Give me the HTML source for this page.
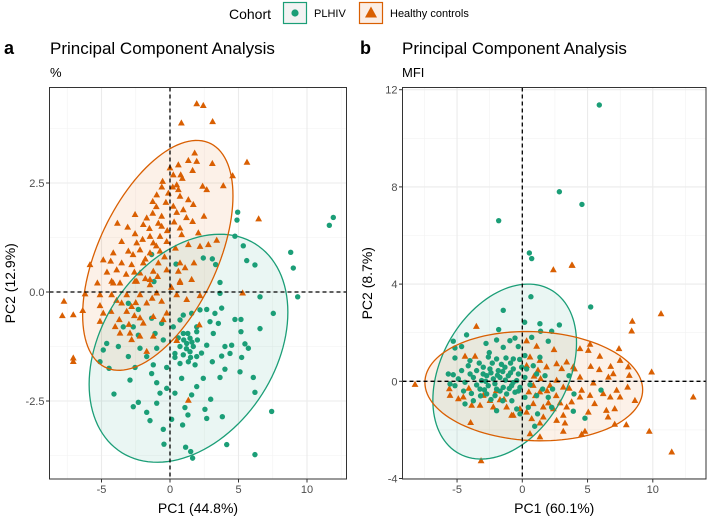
<!DOCTYPE html>
<html><head><meta charset="utf-8">
<style>
html,body{margin:0;padding:0;background:#fff;}
svg{display:block;font-family:"Liberation Sans",Arial,sans-serif;}
</style></head>
<body>
<svg id="chart" width="708" height="518" viewBox="0 0 708 518" xmlns="http://www.w3.org/2000/svg">
  <g>
    <text x="229" y="19" font-size="14" fill="#000">Cohort</text>
    <rect x="283.5" y="2.5" width="23" height="21" fill="#f3f3f3" stroke="#1B9E77" stroke-width="1.2"/>
    <circle cx="295" cy="13" r="3.6" fill="#1B9E77"/>
    <text x="314" y="17" font-size="11" fill="#000">PLHIV</text>
    <rect x="359.5" y="2.5" width="23" height="21" fill="#fbeee6" stroke="#D95F02" stroke-width="1.2"/>
    <polygon points="371,6.5 377,17.5 365,17.5" fill="#D95F02"/>
    <text x="390" y="17" font-size="11" fill="#000">Healthy controls</text>
  </g>
  <text x="4" y="54" font-size="18" font-weight="bold">a</text>
  <text x="50" y="54" font-size="17">Principal Component Analysis</text>
  <text x="50" y="77" font-size="13">%</text>
  <text x="360" y="54" font-size="18" font-weight="bold">b</text>
  <text x="402" y="54" font-size="17">Principal Component Analysis</text>
  <text x="402" y="77" font-size="13">MFI</text>
  <g id="panelA"></g>
  <g id="panelB"></g>
</svg>
<script>
// ---------- Panel a data (% ) ----------
const aXTicks = [-5, 0, 5, 10];
const aXMinor = [-7.5, -2.5, 2.5, 7.5, 12.5];
const aYTicks = [-2.5, 0, 2.5];
const aYTickLabels = ["-2.5", "0.0", "2.5"];
const aYMinor = [-3.75, -1.25, 1.25, 3.75];
const aHealthy = [[1.95,4.31],[2.43,4.27],[0.83,3.87],[3.11,3.9],[1.8,3.18],[1.34,3.01],[1.95,2.99],[3.09,2.94],[5.62,2.97],[0,2.84],[0.61,2.91],[1.65,2.78],[0.24,2.68],[0.78,2.68],[4.57,2.66],[-0.54,2.53],[0.49,2.45],[2.38,2.42],[3.89,2.43],[2.68,2.34],[-0.97,2.22],[0.61,2.34],[-0.12,2.26],[-1.26,2.07],[0.73,2.19],[1.34,2.11],[1.7,2.0],[0.24,1.96],[0.97,1.88],[-2.55,1.77],[-1.26,1.8],[-0.61,1.73],[0.49,1.82],[2.48,1.73],[6.47,1.67],[-3.84,1.57],[-1.7,1.69],[-1.95,1.54],[-0.85,1.57],[-3.09,1.48],[-0.61,1.5],[0.73,1.46],[1.65,1.61],[-2.55,1.33],[-1.46,1.27],[-0.73,1.27],[0.85,1.31],[2.07,1.35],[-3.53,1.15],[-2.43,1.12],[-1.22,1.12],[-0.24,1.15],[1.34,1.08],[2.19,1.04],[3.41,1.18],[2.8,1.08],[-4.14,0.89],[-3.04,0.93],[-2.19,0.96],[-1.46,0.89],[-0.73,0.93],[-5.84,0.62],[-4.87,0.73],[-4.33,0.7],[-3.53,0.66],[-2.8,0.62],[-1.95,0.66],[-0.85,0.66],[0.73,0.66],[1.75,0.66],[-3.89,0.5],[-2.19,0.43],[-1.22,0.47],[-0.24,0.5],[0.61,0.47],[-4.26,0.24],[-3.65,0.2],[-2.55,0.24],[-1.46,0.28],[0.73,0.24],[1.58,0.28],[-4.14,0.2],[-2.43,0.24],[-1.46,0.16],[0.73,0.21],[-6.2,-0.05],[-5.11,-0.07],[-4.26,-0.07],[-3.16,-0.07],[-2.19,-0.07],[-0.97,-0.03],[0.49,-0.07],[2.19,-0.09],[5.3,-0.03],[-7.74,-0.22],[-7.86,-0.55],[-7.06,-0.53],[-6.37,-0.43],[-5.11,-0.32],[-3.53,-0.26],[-2.8,-0.34],[-1.7,-0.26],[-0.61,-0.22],[1.22,-0.18],[-4.87,-0.49],[-3.16,-0.45],[-2.19,-0.6],[-1.22,-0.57],[-0.24,-0.49],[-5.11,-0.68],[-3.7,-0.64],[-1.95,-0.72],[-0.49,-0.64],[2.14,-0.76],[-3.65,-0.95],[-2.92,-0.95],[-2.19,-1.02],[-1.22,-1.02],[0.49,-1.12],[-2.8,-1.1],[-1.7,-1.37],[-7.06,-1.52],[-7.06,-1.6],[1.34,-2.49],[-1.0,1.95],[-0.3,2.05],[0.2,2.4],[-1.5,1.45],[-0.2,1.4],[0.3,1.6],[-2.0,1.2],[-1.0,1.05],[0.4,1.0],[-2.7,0.85],[-1.8,0.75],[-0.4,0.8],[-3.2,0.4],[-2.6,0.45],[-1.8,0.3],[-0.9,0.35],[-4.6,0.45],[-5.3,0.2],[-3.9,-0.2],[-2.5,-0.25],[-1.3,-0.15],[-4.3,-0.45],[-2.6,-0.55],[-3.0,-0.75],[-4.0,-0.8],[0.1,0.1],[1.1,0.55],[1.2,1.7],[-0.6,2.4],[0.9,2.6]];
const aPlhiv = [[11.92,1.71],[11.63,1.53],[4.94,1.83],[4.89,1.65],[4.74,1.28],[5.35,1.06],[8.81,0.91],[9.0,0.55],[5.6,0.72],[6.2,0.62],[2.43,0.78],[3.09,0.76],[3.33,0.63],[0.44,0.64],[-1.34,0.86],[3.65,0.22],[-1.17,0.24],[6.57,-0.11],[9.32,-0.11],[3.65,-0.03],[7.54,-0.49],[6.57,-0.84],[4.74,-0.63],[5.18,-0.63],[3.77,-0.37],[2.19,-0.41],[2.68,-0.4],[3.28,-0.49],[2.92,-0.68],[3.53,-0.72],[1.95,-0.8],[3.16,-0.95],[5.18,-0.91],[4.5,-1.22],[5.47,-1.19],[5.72,-1.29],[4.01,-1.25],[2.68,-1.22],[1.22,-1.18],[1.7,-1.25],[1.46,-1.37],[0.97,-1.44],[0.36,-1.41],[1.95,-1.48],[1.34,-1.6],[0.73,-1.64],[1.83,-1.67],[3.77,-1.47],[4.38,-1.41],[5.23,-1.5],[3.09,-1.6],[4.01,-1.77],[5.11,-1.83],[3.65,-1.96],[6.08,-1.96],[2.43,-1.98],[1.95,-2.17],[0.85,-1.98],[-0.24,-1.73],[-1.22,-1.67],[-1.34,-1.87],[-2.92,-2.02],[-0.97,-2.08],[-0.24,-2.21],[0.36,-2.32],[-0.73,-2.32],[1.58,-2.36],[2.97,-2.46],[6.2,-2.3],[-4.09,-2.34],[-2.31,-2.53],[-2.68,-2.63],[-0.97,-2.55],[1.09,-2.65],[2.55,-2.69],[3.82,-2.86],[7.42,-2.74],[-1.7,-2.76],[-1.46,-2.95],[0.12,-2.92],[0.92,-3.05],[1.31,-2.82],[2.68,-2.9],[-0.49,-3.15],[-0.44,-3.49],[1.14,-3.56],[1.51,-3.66],[1.65,-3.81],[4.14,-3.5],[6.2,-3.73],[-3.04,-0.26],[-2.31,-0.4],[-1.34,-0.6],[-0.61,-0.72],[0.24,-0.8],[0.73,-0.64],[0.97,-0.53],[1.58,-0.49],[-3.41,-0.8],[-2.68,-0.8],[-2.31,-0.99],[-1.09,-0.95],[-0.49,-1.1],[-4.62,-1.18],[-3.77,-1.25],[-2.19,-1.29],[-0.97,-1.29],[-4.87,-1.33],[-3.04,-1.48],[-1.7,-1.48],[-5.11,-1.6],[-4.45,-1.75],[-2.55,-1.73],[0.36,-1.5],[0.73,-1.25],[1.46,-1.06],[1.95,-0.91],[0.97,-0.95],[1.2,-1.3],[1.6,-1.15],[1.0,-1.1],[1.5,-1.5],[2.3,-1.4],[2.0,-1.1],[0.6,-1.05],[1.3,-0.95]];
// ellipse: [centerX, centerY, varX, covXY, varY] (data units)
const aEllHealthy = [-0.89, 0.84, 30.1, 7.5, 6.95];
const aEllPlhiv = [1.35, -1.29, 52.6, 6.0, 6.84];

// ---------- Panel b data (MFI) ----------
const bXTicks = [-5, 0, 5, 10];
const bXMinor = [-7.5, -2.5, 2.5, 7.5, 12.5];
const bYTicks = [-4, 0, 4, 8, 12];
const bYTickLabels = ["-4", "0", "4", "8", "12"];
const bYMinor = [-2, 2, 6, 10];
const bPlhiv = [[5.9,11.37],[2.84,7.8],[4.57,7.28],[-1.81,6.61],[0.54,5.28],[0.72,5.05],[0.66,3.48],[5.24,3.06],[-1.46,2.92],[0.18,2.43],[1.35,2.37],[2.84,2.32],[-1.81,2.13],[-4.27,1.91],[1.4,2.06],[2.25,2.06],[-5.29,1.65],[-2.78,1.56],[-1.97,1.7],[-0.95,1.67],[-0.56,1.78],[0.72,1.81],[1.99,1.65],[-5.16,1.37],[-4.65,1.43],[-1.46,1.4],[-0.31,1.43],[-2.53,1.18],[-5.16,0.96],[-4.01,0.85],[-1.97,0.92],[-1.25,0.96],[-0.69,0.92],[0.2,1.06],[1.35,0.99],[-5.67,0.3],[-5.29,0.27],[-4.65,0.44],[-4.14,0.64],[-3.5,0.44],[-2.99,0.58],[-2.48,0.51],[-1.84,0.44],[-1.33,0.58],[-0.69,0.51],[-0.05,0.58],[0.33,0.51],[0.84,0.64],[-4.9,0.1],[-4.39,-0.04],[-3.75,0.16],[-3.12,0.03],[-2.73,0.23],[-2.22,0.1],[-1.71,0.16],[-1.07,0.23],[-0.43,0.03],[0.2,0.16],[1.1,0.3],[1.74,0.23],[3.58,0.23],[-5.54,-0.11],[-5.16,-0.18],[-3.24,-0.32],[-2.61,-0.18],[-1.97,-0.32],[-1.46,-0.25],[-0.82,-0.18],[-0.18,-0.25],[0.59,-0.14],[1.56,-0.32],[2.32,-0.32],[-2.73,-0.52],[-2.09,-0.59],[-1.2,-0.52],[-0.56,-0.45],[0.2,-0.66],[-3.75,-0.8],[-4.39,-0.93],[1.1,-0.59],[1.99,-0.66],[3.96,-0.52],[6.03,-0.36],[-1.97,-1.21],[-0.43,-1.14],[0.46,-1.07],[1.17,-1.34],[2.25,-1.07],[3.91,-1.23],[4.8,-1.52],[0.95,-1.85],[-0.18,-1.34],[-3.0,0.3],[-2.4,0.35],[-1.9,0.25],[-1.5,0.4],[-0.9,0.35],[-0.3,0.3],[-2.8,0.0],[-2.1,-0.1],[-1.3,0.05],[-0.7,-0.05],[-3.5,-0.15],[-2.9,-0.35],[-1.7,-0.4],[-1.0,-0.3],[-0.3,-0.4],[-2.3,0.75],[-1.6,0.7],[-0.9,0.75],[-3.3,0.75],[-4.0,0.3],[-4.5,-0.4],[-3.9,-0.5],[-3.2,-0.6],[-2.4,-0.75],[-1.5,-0.8],[-0.8,-0.8],[-2.6,1.0],[-0.2,0.9]];
const bHealthy = [[3.8,4.77],[2.38,4.58],[3.83,4.76],[10.63,2.77],[8.43,2.46],[8.38,2.06],[-3.52,2.25],[-8.22,-0.14],[-5.59,-0.32],[-4.9,-0.73],[-5.54,-0.59],[-4.52,-0.66],[-3.88,-1.0],[-3.24,-1.0],[-2.48,-0.8],[-3.96,-1.71],[-4.39,1.02],[-3.62,1.02],[-1.71,-0.77],[-1.2,-1.07],[-0.82,-1.41],[-0.18,-1.14],[0.33,1.65],[1.1,1.43],[2.43,1.29],[1.35,0.85],[0.59,0.99],[0.33,0.64],[1.86,0.58],[2.63,0.71],[3.4,0.78],[3.02,0.51],[3.91,0.58],[4.42,1.33],[5.19,1.51],[5.06,1.26],[5.94,1.02],[5.24,0.6],[5.9,0.47],[6.77,0.6],[7.41,1.33],[7.49,0.85],[6.97,0.3],[8.12,0.58],[8.2,0.23],[9.91,0.37],[6.6,0.16],[5.44,-0.08],[4.42,0.16],[2.63,0.03],[0.84,-0.18],[1.35,-0.45],[2.12,-0.18],[3.14,-0.25],[4.55,-0.38],[5.19,-0.59],[6.2,-0.52],[7.23,-0.38],[8.07,-0.25],[6.74,-0.66],[7.49,-0.66],[8.63,-0.8],[13.1,-0.66],[0.84,-0.93],[1.61,-1.07],[2.38,-1.14],[3.4,-1.07],[3.78,-0.86],[4.42,-0.66],[5.54,-0.93],[7.08,-1.14],[6.44,-1.21],[6.57,-1.48],[5.06,-1.28],[3.14,-1.41],[1.61,-1.48],[2.63,-1.62],[3.27,-1.73],[1.35,-1.73],[0.72,-1.55],[7.08,-1.78],[7.97,-1.8],[9.73,-2.07],[4.8,-2.07],[4.55,-2.19],[3.14,-2.07],[1.35,-2.3],[0.59,-2.17],[-0.69,-1.41],[0.33,-1.28],[-2.22,-1.07],[-2.99,-0.59],[11.45,-2.92],[-3.16,-3.28],[0.9,0.2],[1.4,0.1],[1.9,-0.4],[2.6,-0.6],[1.0,-0.6],[2.0,-0.9],[2.9,-0.9],[1.2,0.45],[0.5,-0.45],[-4.1,-0.3],[-2.0,-0.4],[-1.4,-0.75],[3.6,-0.3],[4.0,0.5]];
const bEllPlhiv = [-1.35, 0.4, 30.3, 6.5, 12.96];
const bEllHealthy = [0.88, -0.2, 69.6, -1.24, 5.06];

const NS = "http://www.w3.org/2000/svg";
const GREEN = "#1B9E77", ORANGE = "#D95F02";
function mk(tag, attrs, parent) {
  const el = document.createElementNS(NS, tag);
  for (const k in attrs) el.setAttribute(k, attrs[k]);
  parent.appendChild(el);
  return el;
}
function ellipsePath(e, sx, sy) {
  const [cx, cy, vxx, vxy, vyy] = e;
  const ux = Math.sqrt(vxx), uy = vxy / ux, vy = Math.sqrt(Math.max(vyy - uy * uy, 0));
  let d = "";
  for (let i = 0; i <= 120; i++) {
    const t = i / 120 * 2 * Math.PI;
    const X = cx + ux * Math.cos(t);
    const Y = cy + uy * Math.cos(t) + vy * Math.sin(t);
    d += (i ? "L" : "M") + sx(X).toFixed(2) + "," + sy(Y).toFixed(2);
  }
  return d + "Z";
}
function drawPanel(cfg) {
  const g = document.getElementById(cfg.id);
  const {L, R, T, B, sx, sy} = cfg;
  const clipId = cfg.id + "-clip";
  const defs = mk("defs", {}, g);
  const cp = mk("clipPath", {id: clipId}, defs);
  mk("rect", {x: L, y: T, width: R - L, height: B - T}, cp);
  const grid = mk("g", {}, g);
  
  
  cfg.xMinor.forEach(v => { const x = sx(v); if (x > L && x < R) mk("line", {x1: x, x2: x, y1: T, y2: B, stroke: "#F2F2F2", "stroke-width": 0.6}, grid); });
  cfg.yMinor.forEach(v => { const y = sy(v); if (y > T && y < B) mk("line", {x1: L, x2: R, y1: y, y2: y, stroke: "#F2F2F2", "stroke-width": 0.6}, grid); });
  cfg.xTicks.forEach(v => mk("line", {x1: sx(v), x2: sx(v), y1: T, y2: B, stroke: "#EBEBEB", "stroke-width": 1.1}, grid));
  cfg.yTicks.forEach(v => mk("line", {x1: L, x2: R, y1: sy(v), y2: sy(v), stroke: "#EBEBEB", "stroke-width": 1.1}, grid));
  const plot = mk("g", {"clip-path": "url(#" + clipId + ")"}, g);
  cfg.ells.forEach(([e, col, fill, nm]) => {
    const p = mk("path", {d: ellipsePath(e, sx, sy), fill: fill, stroke: "none"}, plot);
    
    
  });
  cfg.series.forEach(([pts, kind, nm]) => {
    const sg = mk("g", {}, plot);
    
    
    pts.forEach(([vx, vy]) => {
      const x = sx(vx), y = sy(vy);
      let m;
      if (kind === "circle") m = mk("circle", {cx: x, cy: y, r: 2.7, fill: GREEN}, sg);
      else m = mk("polygon", {points: `${x},${y - 3.9} ${x + 3.4},${y + 2.2} ${x - 3.4},${y + 2.2}`, fill: ORANGE}, sg);
      
      
    });
  });
  cfg.ells.forEach(([e, col, fill, nm]) => {
    const p = mk("path", {d: ellipsePath(e, sx, sy), fill: "none", stroke: col, "stroke-width": 1.3}, plot);
    
    
  });
  const vl = mk("line", {x1: sx(0), x2: sx(0), y1: T, y2: B, stroke: "#000", "stroke-width": 1.3, "stroke-dasharray": "4,3"}, g);
  
  
  const hl = mk("line", {x1: L, x2: R, y1: sy(0), y2: sy(0), stroke: "#000", "stroke-width": 1.3, "stroke-dasharray": "4,3"}, g);
  
  
  const border = mk("rect", {x: L, y: T, width: R - L, height: B - T, fill: "none", stroke: "#333", "stroke-width": 1}, g);
  
  
  cfg.xTicks.forEach(v => {
    mk("line", {x1: sx(v), x2: sx(v), y1: B, y2: B + 3.5, stroke: "#333", "stroke-width": 1}, g);
    const t = mk("text", {x: sx(v), y: B + 14, "text-anchor": "middle", "font-size": 11, fill: "#4D4D4D"}, g);
    t.textContent = String(v);
    
    
  });
  cfg.yTicks.forEach((v, i) => {
    mk("line", {x1: L - 3.5, x2: L, y1: sy(v), y2: sy(v), stroke: "#333", "stroke-width": 1}, g);
    const t = mk("text", {x: L - 5, y: sy(v) + 4, "text-anchor": "end", "font-size": 11, fill: "#4D4D4D"}, g);
    t.textContent = cfg.yLabels[i];
    
    
  });
  const xt = mk("text", {x: (L + R) / 2, y: B + 34, "text-anchor": "middle", "font-size": 14}, g);
  xt.textContent = cfg.xTitle;
  
  
  const yt = mk("text", {x: 0, y: 0, "text-anchor": "middle", "font-size": 14, transform: `translate(${cfg.yTitleX},${(T + B) / 2}) rotate(-90)`}, g);
  yt.textContent = cfg.yTitle;
  
  
}
drawPanel({id: "panelA", L: 49.5, R: 346.5, T: 87.5, B: 479,
  sx: v => 170 + 13.7 * v, sy: v => 292 - 43.6 * v,
  xTicks: aXTicks, xMinor: aXMinor, yTicks: aYTicks, yLabels: aYTickLabels, yMinor: aYMinor,
  ells: [[aEllPlhiv, GREEN, "rgba(27,158,119,0.09)", "ellipse-plhiv"], [aEllHealthy, ORANGE, "rgba(217,95,2,0.09)", "ellipse-healthy"]],
  series: [[aPlhiv, "circle", "series-plhiv"], [aHealthy, "tri", "series-healthy"]],
  xTitle: "PC1 (44.8%)", yTitle: "PC2 (12.9%)", yTitleX: 15});
drawPanel({id: "panelB", L: 402.5, R: 706, T: 87.5, B: 479,
  sx: v => 522.3 + 13.05 * v, sy: v => 381.3 - 24.3 * v,
  xTicks: bXTicks, xMinor: bXMinor, yTicks: bYTicks, yLabels: bYTickLabels, yMinor: bYMinor,
  ells: [[bEllPlhiv, GREEN, "rgba(27,158,119,0.09)", "ellipse-plhiv"], [bEllHealthy, ORANGE, "rgba(217,95,2,0.09)", "ellipse-healthy"]],
  series: [[bHealthy, "tri", "series-healthy"], [bPlhiv, "circle", "series-plhiv"]],
  xTitle: "PC1 (60.1%)", yTitle: "PC2 (8.7%)", yTitleX: 372});
</script>
</body></html>
